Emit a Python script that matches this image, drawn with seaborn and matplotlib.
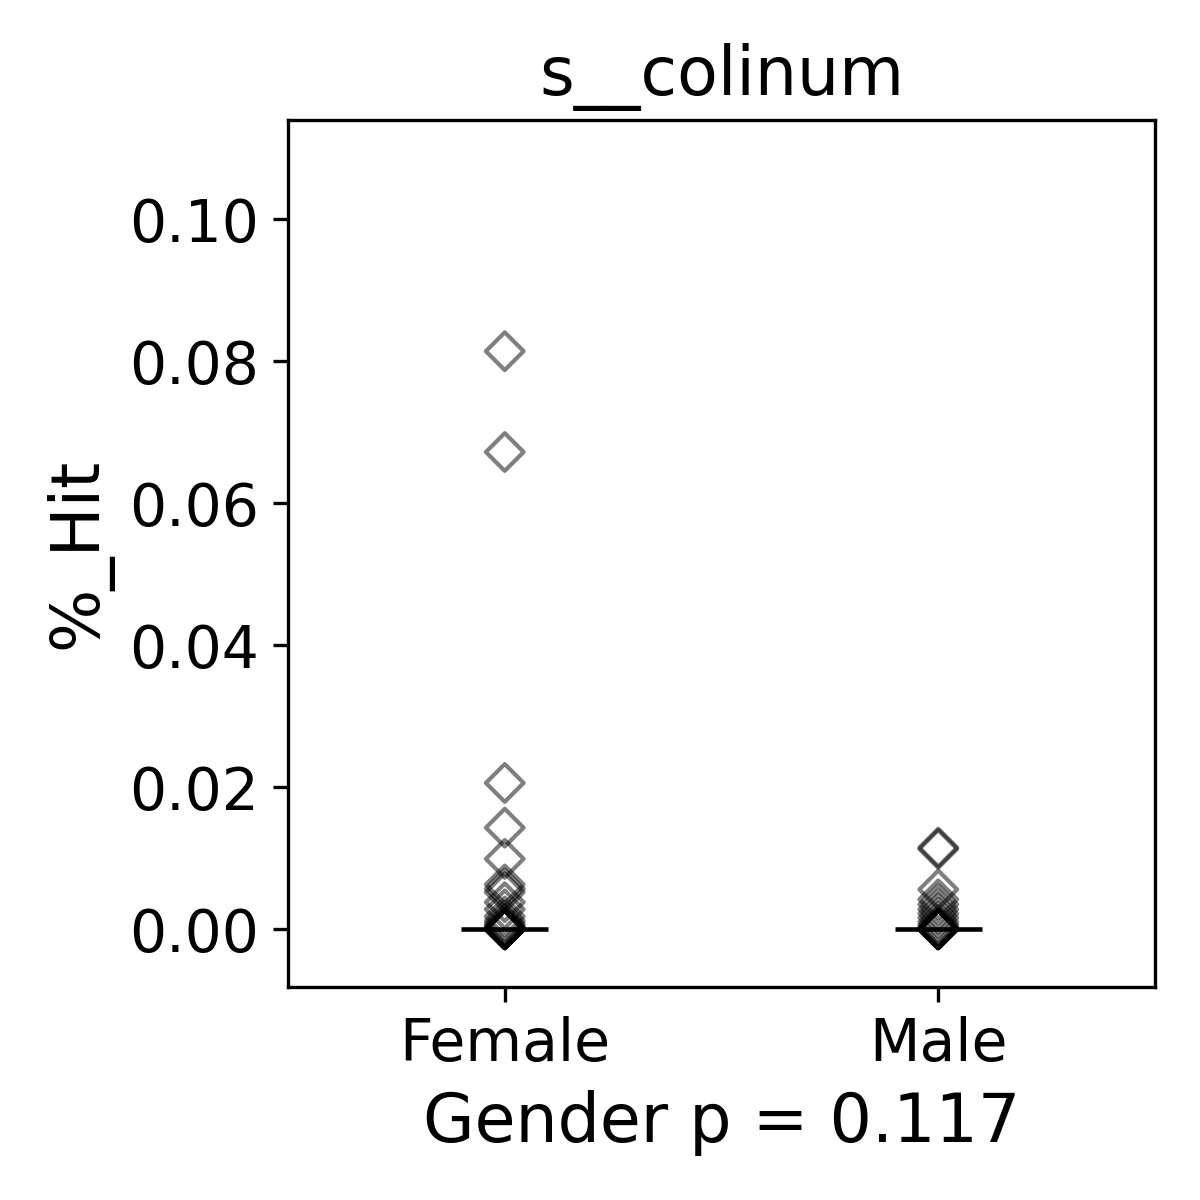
import numpy as np
import pandas as pd
import matplotlib
matplotlib.use("Agg")
import matplotlib.pyplot as plt
import seaborn as sns

# valores (%_Hit por grupo)
female_hit = [0.0814, 0.0672, 0.0206, 0.0143, 0.0099, 0.0063, 0.0057, 0.0052,
              0.0038, 0.0028, 0.0018, 0.0012, 0.0008, 0.0005, 0.0003, 0.0001,
              0, 0, 0, 0, 0, 0, 0, 0, 0, 0, 0, 0, 0, 0, 0, 0, 0, 0, 0, 0]
male_hit = [0.0115, 0.0113, 0.0056, 0.0042, 0.0035, 0.0028, 0.0022, 0.0016,
            0.0010, 0.0006, 0.0003, 0.0001,
            0, 0, 0, 0, 0, 0, 0, 0, 0, 0, 0, 0, 0, 0, 0, 0, 0, 0]
grupos = ["Female", "Male"]
titulo = "s__colinum"
p_valor = 0.117

df = pd.DataFrame({
    "Gender": ["Female"] * len(female_hit) + ["Male"] * len(male_hit),
    "%_Hit": female_hit + male_hit,
})

fig, ax = plt.subplots(figsize=(4, 4), dpi=300)
sns.stripplot(data=df, x="Gender", y="%_Hit", order=grupos, jitter=False,
              marker="D", size=6.4, color="black", linewidth=1,
              edgecolor="black", alpha=0.5, ax=ax)
for coll in ax.collections:
    coll.set_facecolor("none")
    coll.set_edgecolor("black")

# lineas de mediana
medianas = df.groupby("Gender")["%_Hit"].median()
for i, g in enumerate(grupos):
    ax.hlines(medianas[g], i - 0.1, i + 0.1, color="black", lw=1.1, zorder=5)

ymax = df["%_Hit"].max()
ax.set_ylim(-0.1 * ymax, 1.4 * ymax)
ax.set_xlim(-0.5, 1.5)
ax.set_yticks([0, 0.02, 0.04, 0.06, 0.08, 0.10])
ax.set_yticklabels(["0.00", "0.02", "0.04", "0.06", "0.08", "0.10"])
ax.tick_params(labelsize=14)
ax.set_title(titulo, fontsize=16)
ax.set_ylabel("%_Hit", fontsize=16)
ax.set_xlabel(f"Gender p = {p_valor:.3f}", fontsize=16, labelpad=4)

fig.subplots_adjust(left=0.24, right=0.9625, top=0.9, bottom=0.1775)
fig.savefig("out.png", dpi=300)
